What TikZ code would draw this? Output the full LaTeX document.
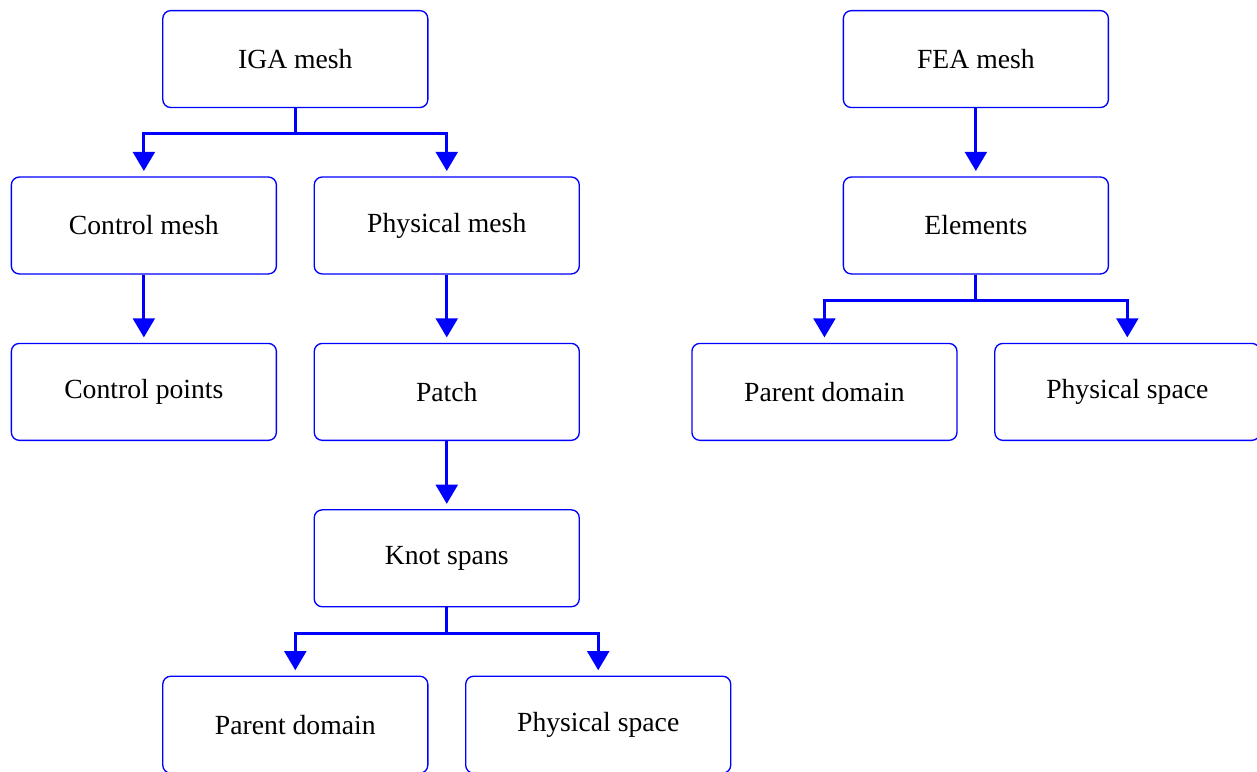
\documentclass[tikz,border=0pt]{standalone}
\usepackage{fontspec}
\setmainfont{Liberation Serif}
\usetikzlibrary{positioning,arrows.meta}

\tikzset{
  block/.style={draw=blue, line width=0.5pt, rounded corners=3pt,
    minimum width=3.5cm, minimum height=1.28cm,
    font=\fontsize{10.4pt}{12pt}\selectfont},
  link/.style={draw=blue, line width=1.1pt,
    -{Triangle[length=7.2pt,width=8.2pt]}, shorten >=2pt},
}

\begin{document}
\begin{tikzpicture}[node distance=0.9cm]

  \useasboundingbox (-3.9,0.78) rectangle (12.7,-9.405);

  \node (IGA) [block] {IGA mesh};
  \node (CM) [block, below=of IGA, xshift=-2cm] {Control mesh};
  \node (PM) [block, below=of IGA, xshift=2cm] {Physical mesh};
  \node (CP) [block, below=of CM] {Control points};
  \node (P) [block, below=of PM] {Patch};
  \node (KS) [block, below=of P] {Knot spans};
  \node (KPD) [block, below=of KS, xshift=-2cm] {Parent domain};
  \node (KPS) [block, below=of KS, xshift=2cm] {Physical space};

  \node (FEA) [block, right=5.47cm of IGA] {FEA mesh};
  \node (E) [block, below=of FEA] {Elements};
  \node (EPD) [block, below=of E, xshift=-2cm] {Parent domain};
  \node (EPS) [block, below=of E, xshift=2cm] {Physical space};

  \draw [link] (IGA.south) -- ++(0,-0.34) -| (CM.north);
  \draw [link] (IGA.south) -- ++(0,-0.34) -| (PM.north);
  \draw [link] (CM) -- (CP);
  \draw [link] (PM) -- (P);
  \draw [link] (P) -- (KS);
  \draw [link] (KS.south) -- ++(0,-0.34) -| (KPD.north);
  \draw [link] (KS.south) -- ++(0,-0.34) -| (KPS.north);

  \draw [link] (FEA) -- (E);
  \draw [link] (E.south) -- ++(0,-0.34) -| (EPD.north);
  \draw [link] (E.south) -- ++(0,-0.34) -| (EPS.north);

\end{tikzpicture}
\end{document}
